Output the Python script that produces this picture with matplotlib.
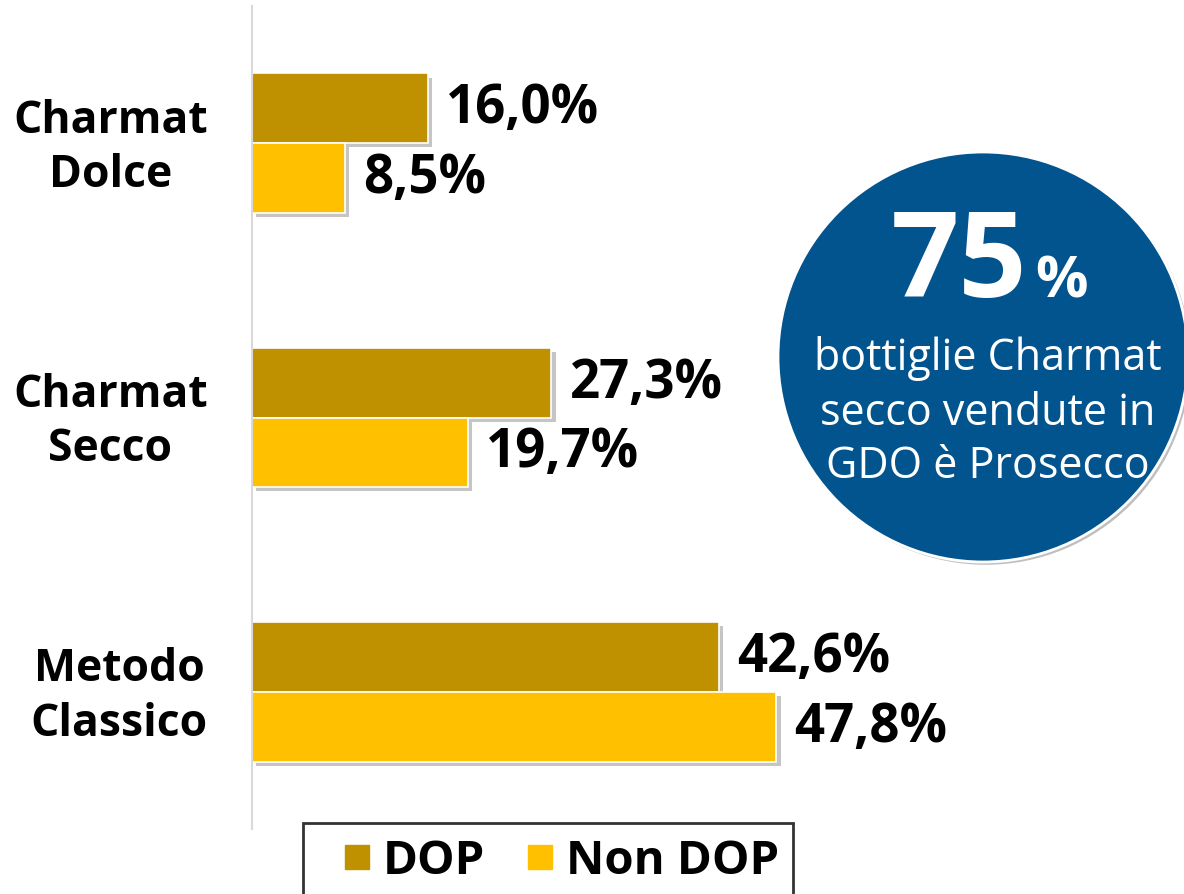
import numpy as np
import matplotlib.pyplot as plt
import matplotlib.patheffects as pe
import matplotlib.transforms as mtransforms
from matplotlib.patches import Circle
from matplotlib.lines import Line2D

plt.rcParams['font.family'] = ['Open Sans', 'DejaVu Sans']

categories = ["Charmat\nDolce", "Charmat\nSecco", "Metodo\nClassico"]
dop = [16.0, 27.3, 42.6]
non_dop = [8.5, 19.7, 47.8]
series_names = ["DOP", "Non DOP"]
colors = ["#BF9000", "#FFC000"]

W, H = 1184, 895
fig = plt.figure(figsize=(W / 100, H / 100), dpi=100)
ax = fig.add_axes([252 / W, (H - 830) / H, (W - 252) / W, 823 / H])

y = np.arange(len(categories))
bh = 0.254
shadow = [pe.SimplePatchShadow(offset=(3, -3), shadow_rgbFace="#808080", alpha=0.45), pe.Normal()]

for vals, off, col in [(dop, -bh / 2, colors[0]), (non_dop, bh / 2, colors[1])]:
    bars = ax.barh(y + off, vals, height=bh, color=col, edgecolor="white", linewidth=1.2)
    for b, v in zip(bars, vals):
        b.set_path_effects(shadow)
        ax.annotate(f"{v:.1f}".replace(".", ",") + "%", (v, b.get_y() + bh / 2),
                    xytext=(13, 0), textcoords="offset points", va="center", ha="left",
                    fontsize=38, fontweight="bold", color="black")

ax.set_xlim(0, (W - 252) / 10.97)
ax.set_ylim(2.5, -0.5)
ax.set_xticks([])
ax.set_yticks(y)
ax.set_yticklabels(categories, fontsize=32, fontweight="bold", multialignment="center", linespacing=1.27)
ax.tick_params(axis="y", length=0, pad=32)
shift = mtransforms.ScaledTranslation(0, 6 / 100, fig.dpi_scale_trans)
for lab in ax.get_yticklabels():
    lab.set_transform(lab.get_transform() + shift)
for s in ["top", "right", "bottom"]:
    ax.spines[s].set_visible(False)
ax.spines["left"].set_color("#d9d9d9")
ax.spines["left"].set_linewidth(1.5)

# highlight circle
circ = Circle((9.83, (H - 358) / 100), 2.05, transform=fig.dpi_scale_trans,
              facecolor="#02548F", edgecolor="white", linewidth=2, zorder=5)
circ.set_path_effects([pe.SimplePatchShadow(offset=(2, -2), shadow_rgbFace="#808080", alpha=0.5), pe.Normal()])
fig.add_artist(circ)
fig.text(1027 / W, (H - 297) / H, "75", ha="right", va="baseline", fontsize=86,
         fontweight="bold", color="white", zorder=6)
fig.text(1035 / W, (H - 297) / H, "%", ha="left", va="baseline", fontsize=42,
         fontweight="bold", color="white", zorder=6)
for txt, yb in [("bottiglie Charmat", 370), ("secco vendute in", 425), ("GDO è Prosecco", 478)]:
    fig.text(988 / W, (H - yb) / H, txt, ha="center", va="baseline", fontsize=31,
             color="white", zorder=6)

handles = [Line2D([], [], marker="s", linestyle="none", markersize=17, color=c) for c in colors]
leg = fig.legend(handles, series_names, loc="upper center", bbox_to_anchor=(548 / W, (H - 824) / H),
                 ncol=2, fancybox=False, frameon=True, prop={"size": 34, "weight": "bold"},
                 handletextpad=-0.3, columnspacing=0.3, borderpad=0.3, handlelength=1.7,
                 borderaxespad=0)
leg.get_frame().set_edgecolor("black")
leg.get_frame().set_linewidth(2)

fig.savefig("out.png", dpi=100)
